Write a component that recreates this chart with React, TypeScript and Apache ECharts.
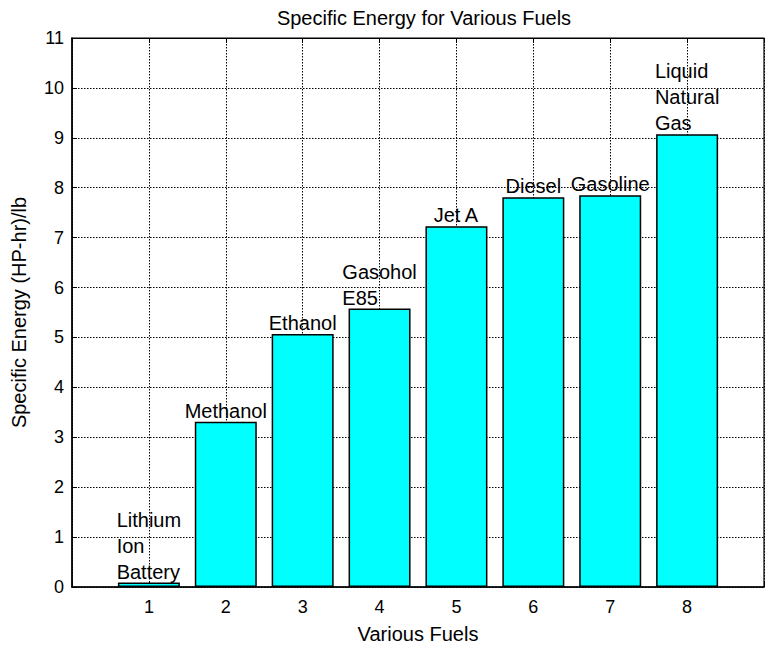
import React, { useEffect, useRef } from "react";
import * as echarts from "echarts";

const fuelIndex = [1, 2, 3, 4, 5, 6, 7, 8];
const specificEnergy = [0.09, 3.31, 5.07, 5.58, 7.23, 7.81, 7.85, 9.07];
const fuelLabels = [
  ["Lithium", "Ion", "Battery"],
  ["Methanol"],
  ["Ethanol"],
  ["Gasohol", "E85"],
  ["Jet A"],
  ["Diesel"],
  ["Gasoline"],
  ["Liquid", "Natural", "Gas"],
];
const xTickLabels = ["1", "2", "3", "4", "5", "6", "7", "8"];

const FONT = '"Liberation Sans", Arial, Helvetica, sans-serif';

export default function App() {
  const ref = useRef<HTMLDivElement>(null);
  useEffect(() => {
    if (!ref.current) return;
    const chart = echarts.init(ref.current, null, { renderer: "svg" });
    const data = fuelIndex.map((x, i) => [x, specificEnergy[i]]);
    chart.setOption({
      animation: false,
      backgroundColor: "#ffffff",
      textStyle: { fontFamily: FONT },
      title: {
        text: "Specific Energy for Various Fuels",
        left: 419,
        textAlign: "center",
        top: 3,
        textStyle: { fontSize: 20, fontWeight: "normal", color: "#000", fontFamily: FONT },
      },
      grid: {
        left: 72,
        right: -5,
        top: 38,
        bottom: 61,
        show: true,
        borderColor: "#000",
        borderWidth: 1.2,
        backgroundColor: "transparent",
      },
      xAxis: [
        {
          type: "value",
          min: 0,
          max: 9,
          interval: 1,
          name: "Various Fuels",
          nameLocation: "middle",
          nameGap: 37,
          nameTextStyle: { fontSize: 20, color: "#000", fontFamily: FONT },
          axisLine: { show: true, lineStyle: { color: "#000", width: 1.5 } },
          axisTick: { show: true, inside: true, length: 5, lineStyle: { color: "#000" } },
          axisLabel: {
            fontSize: 18,
            color: "#000",
            margin: 11,
            fontFamily: FONT,
            formatter: (v: number) => {
              const i = fuelIndex.indexOf(v);
              return i >= 0 ? xTickLabels[i] : "";
            },
          },
          splitLine: { show: true, lineStyle: { color: "#000", type: [1.5, 1.5], width: 1 } },
        },
        {
          type: "value",
          position: "top",
          min: 0,
          max: 9,
          interval: 1,
          axisLine: { show: true, lineStyle: { color: "#000", width: 1.2 } },
          axisTick: { show: true, inside: true, length: 5, lineStyle: { color: "#000" } },
          axisLabel: { show: false },
          splitLine: { show: false },
        },
      ],
      yAxis: {
        type: "value",
        min: 0,
        max: 11,
        interval: 1,
        name: "Specific Energy (HP-hr)/lb",
        nameLocation: "middle",
        nameGap: 43,
        nameTextStyle: { fontSize: 20, color: "#000", fontFamily: FONT },
        axisLine: { show: true, lineStyle: { color: "#000", width: 1.5 } },
        axisTick: { show: true, inside: true, length: 5, lineStyle: { color: "#000" } },
        axisLabel: { fontSize: 18, color: "#000", margin: 8, fontFamily: FONT },
        splitLine: { show: true, lineStyle: { color: "#000", type: [1.5, 1.5], width: 1 } },
      },
      series: [
        {
          type: "bar",
          xAxisIndex: 0,
          data,
          barWidth: 62,
          itemStyle: { color: "#00ffff", borderColor: "#000", borderWidth: 1.5 },
          label: {
            show: true,
            position: "top",
            distance: -2,
            color: "#000",
            fontSize: 20,
            lineHeight: 26,
            fontFamily: FONT,
            formatter: (p: any) =>
              fuelLabels[p.dataIndex].map((s) => "{a|" + s + "}").join("\n"),
            rich: {
              a: { align: "left", fontSize: 20, lineHeight: 26, color: "#000", fontFamily: FONT },
            },
          },
        },
      ],
    });
    return () => chart.dispose();
  }, []);
  return (
    <div
      ref={ref}
      style={{ position: "fixed", left: 0, top: 0, width: 767, height: 649 }}
    />
  );
}
